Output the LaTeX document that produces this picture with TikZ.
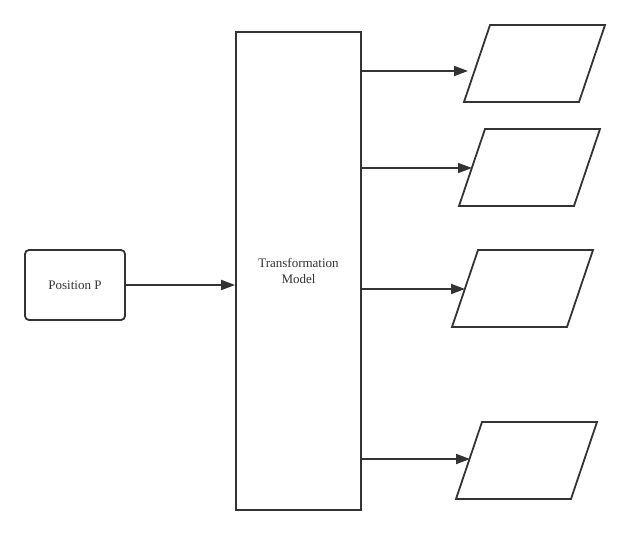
\documentclass[tikz,border=0pt]{standalone}
\usepackage{fontspec}
\setmainfont{Liberation Serif}
\usepackage{tikz}
\usetikzlibrary{arrows.meta, positioning}

\definecolor{linegray}{HTML}{333333}

\tikzset{
  box/.style   = {draw=linegray, line width=1.8pt, align=center, text=linegray,
                  font=\fontsize{13}{16}\selectfont},
  flow/.style  = {draw=linegray, line width=1.8pt, -{Triangle[length=14pt, width=10pt]}},
  outbox/.style = {draw=linegray, line width=1.8pt, line join=miter}
}

\begin{document}
\begin{tikzpicture}[x=1pt, y=-1pt]

\useasboundingbox (0,0) rectangle (630,535);

\node [box, rounded corners=4pt, minimum width=100pt, minimum height=70pt ] (pos)   at (75,285)    {Position P};
\node [box, minimum width=125pt, minimum height=478pt                    ] (model) at (298.5,271) {Transformation\\Model};

% output parallelograms: top left x, top y, arrow end x, arrow y
\foreach \x/\y/\ax/\ay/\n in {490/25/468/71/1, 485/129/472/168/2, 478/250/465/289/3, 482/422/470/459/4} {
  \draw [outbox] (\x,\y) -- ++(115,0) -- ++(-26,77) -- ++(-115,0) -- cycle;
  \coordinate (o\n) at (\ax,\ay);
}

\path [flow] (pos)              -- (model.west |- pos);
\path [flow] (model.east |- o1) -- (o1);
\path [flow] (model.east |- o2) -- (o2);
\path [flow] (model.east |- o3) -- (o3);
\path [flow] (model.east |- o4) -- (o4);

\end{tikzpicture}
\end{document}
